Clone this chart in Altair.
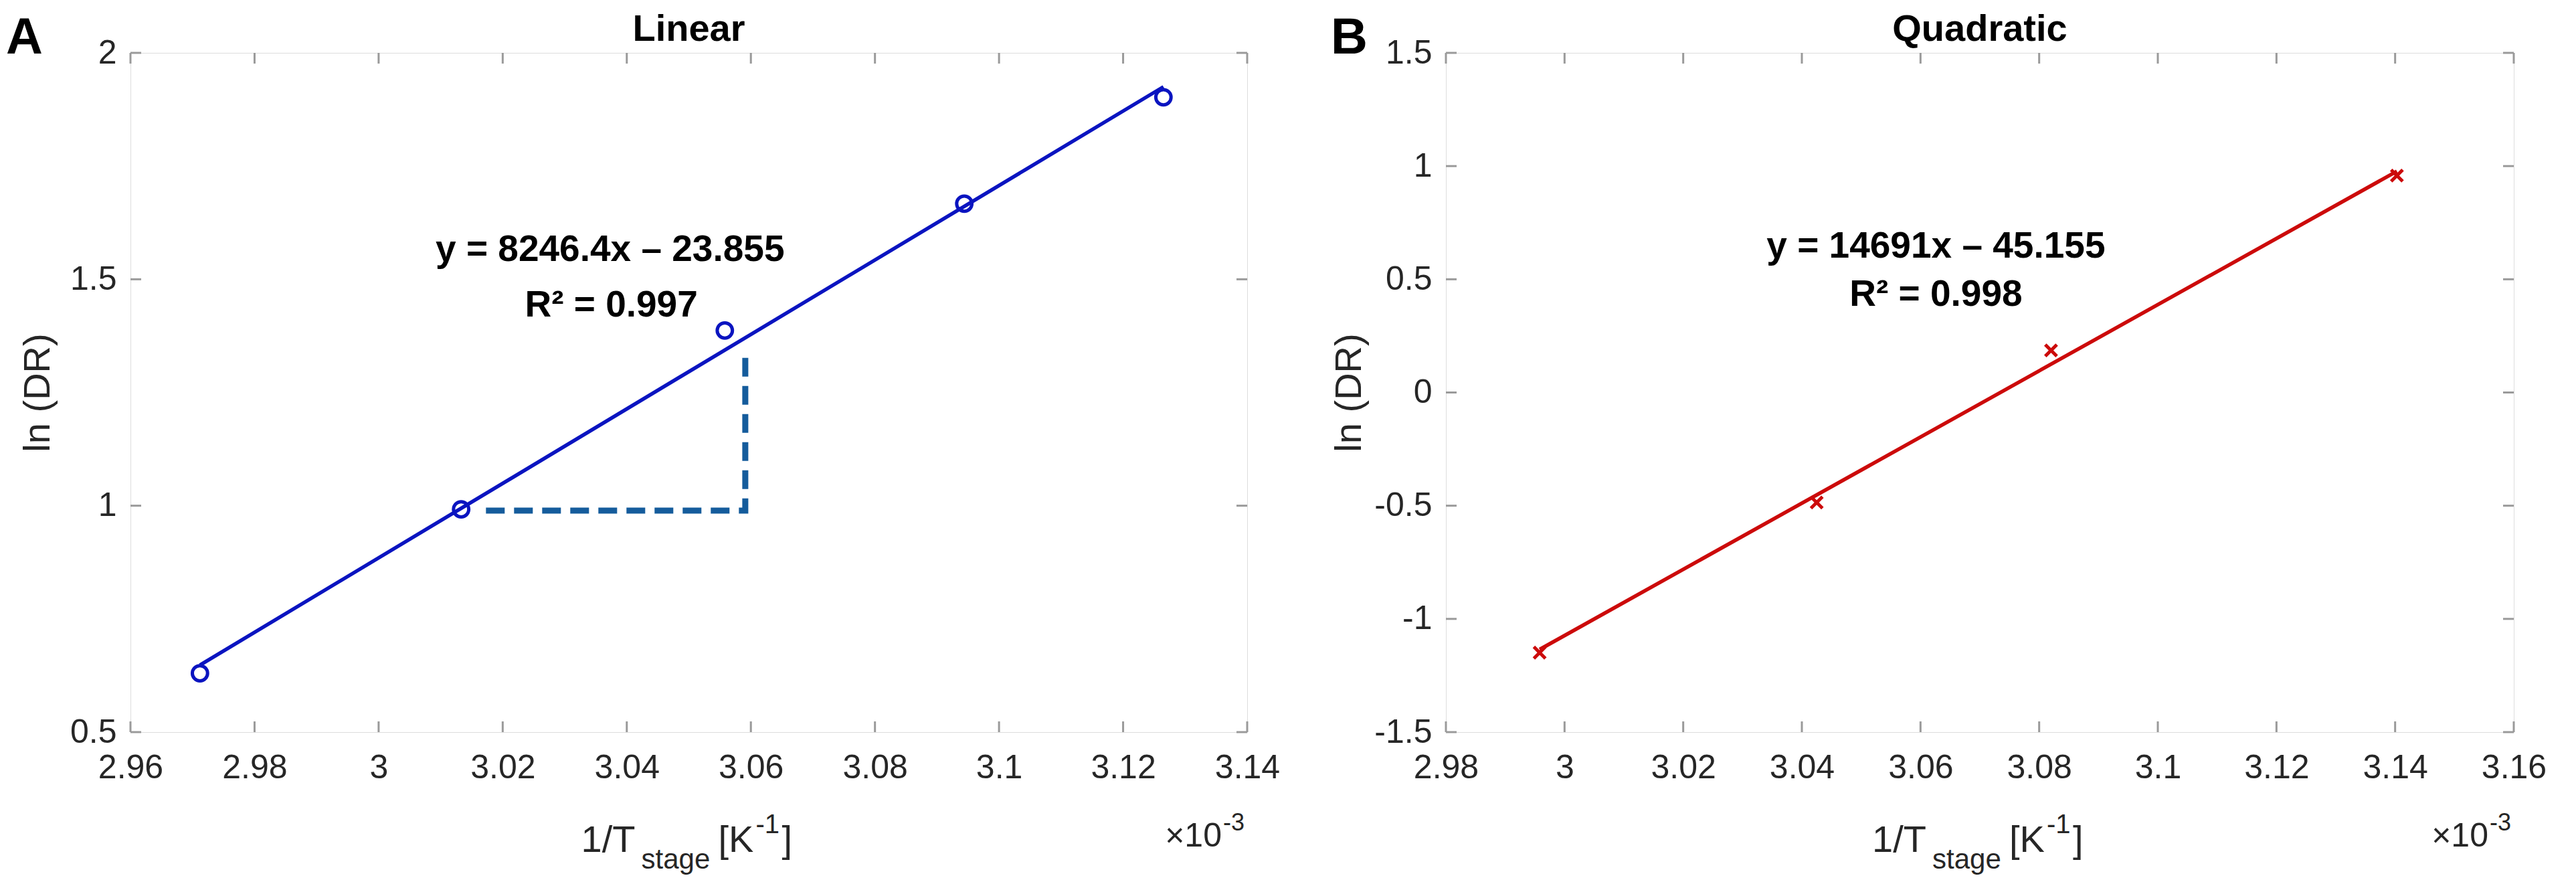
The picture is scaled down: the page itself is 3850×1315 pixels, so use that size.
import altair as alt
import pandas as pd

# ---------------- data (x values in units of 10^-3 K^-1) ----------------
# Panel A - Linear
a_x = [2.9712, 3.0133, 3.0558, 3.0944, 3.1265]
a_y = [0.630, 0.992, 1.387, 1.667, 1.902]
a_fit_x = [2.9712, 3.1265]
a_fit_y = [0.648, 1.925]
a_tri_x = [3.0173, 3.0591, 3.0591]
a_tri_y = [0.989, 0.989, 1.345]
a_x_ticks = [2.96, 2.98, 3.00, 3.02, 3.04, 3.06, 3.08, 3.10, 3.12, 3.14]
a_y_ticks = [0.5, 1.0, 1.5, 2.0]
a_x_domain = [2.96, 3.14]
a_y_domain = [0.5, 2.0]
a_title = "Linear"
a_letter = "A"
a_eq_text = ["y = 8246.4x \u2013 23.855", "R\u00b2 = 0.997"]
a_eq_x = [3.0373, 3.0375]
a_eq_y = [1.566, 1.443]

# Panel B - Quadratic
b_x = [2.9958, 3.0425, 3.0820, 3.1403]
b_y = [-1.149, -0.486, 0.186, 0.958]
b_fit_x = [2.9958, 3.1403]
b_fit_y = [-1.135, 0.977]
b_x_ticks = [2.98, 3.00, 3.02, 3.04, 3.06, 3.08, 3.10, 3.12, 3.14, 3.16]
b_y_ticks = [-1.5, -1.0, -0.5, 0.0, 0.5, 1.0, 1.5]
b_x_domain = [2.98, 3.16]
b_y_domain = [-1.5, 1.5]
b_title = "Quadratic"
b_letter = "B"
b_eq_text = ["y = 14691x \u2013 45.155", "R\u00b2 = 0.998"]
b_eq_x = [3.0626, 3.0626]
b_eq_y = [0.646, 0.433]

y_label = "ln (DR)"
x_label_parts = ["1/T", "stage", "[K", "-1", "]"]
x_exp_parts = ["\u00d710", "-3"]

# ---------------- style ----------------
SANS = "Liberation Sans"
INK = "#262626"
FRAME = "#9a9a9a"
BLUE = "#0a14c0"
DASH = "#155c9c"
RED = "#cc0a0a"
TICK_LEN = 16


def txt(s, x, y, size, weight="normal", align="left", color=INK, font=SANS):
    return alt.Chart(pd.DataFrame({"t": [s]})).mark_text(
        align=align, baseline="alphabetic", font=font, fontSize=size,
        fontWeight=weight, color=color
    ).encode(text="t:N", x=alt.value(x), y=alt.value(y))


def spacer(y0, y1):
    # invisible rule that only reserves room in the layout
    return alt.Chart(pd.DataFrame({"s": [0]})).mark_rule(opacity=0, strokeWidth=1).encode(
        x=alt.value(0), y=alt.value(y0), y2=alt.value(y1))


LABEL_EXPR = "datum.value < 0 ? '-' + format(-datum.value, '~g') : format(datum.value, '~g')"


def panel(W, H, xdom, ydom, xticks, yticks, title, letter, letter_x,
          ytitle_x, eq_text, eq_x, eq_y, data_layers):
    xs = alt.Scale(domain=xdom, nice=False, zero=False)
    ys = alt.Scale(domain=ydom, nice=False, zero=False)
    xaxis = alt.Axis(values=xticks, labelExpr=LABEL_EXPR, labelFlush=False,
                     labelOverlap=False, ticks=False, tickSize=0, domain=False,
                     grid=False, title=None, labelPadding=28, labelFont=SANS,
                     labelFontSize=50, labelColor=INK)
    yaxis = alt.Axis(values=yticks, labelExpr=LABEL_EXPR, labelOverlap=False,
                     ticks=False, tickSize=0, domain=False, grid=False,
                     labelPadding=21, labelFont=SANS, labelFontSize=50,
                     labelColor=INK, title=y_label, titleFont=SANS,
                     titleFontSize=56, titleFontWeight="normal", titleColor=INK,
                     titleAngle=270, titleAlign="center", titleBaseline="middle",
                     titleX=ytitle_x, titleY=H / 2)
    X = lambda f: alt.X(f, type="quantitative", scale=xs, axis=xaxis)
    Y = lambda f: alt.Y(f, type="quantitative", scale=ys, axis=yaxis)

    xt = pd.DataFrame({"v": xticks})
    yt = pd.DataFrame({"v": yticks})
    rule = dict(color=FRAME, strokeWidth=3)
    ticks = [
        alt.Chart(xt).mark_rule(**rule).encode(x=X("v"), y=alt.value(0), y2=alt.value(TICK_LEN)),
        alt.Chart(xt).mark_rule(**rule).encode(x=X("v"), y=alt.value(H), y2=alt.value(H - TICK_LEN)),
        alt.Chart(yt).mark_rule(**rule).encode(y=Y("v"), x=alt.value(0), x2=alt.value(TICK_LEN)),
        alt.Chart(yt).mark_rule(**rule).encode(y=Y("v"), x=alt.value(W), x2=alt.value(W - TICK_LEN)),
    ]

    layers = [lay(X, Y) for lay in data_layers]

    eq = alt.Chart(pd.DataFrame({"x": eq_x, "y": eq_y, "t": eq_text})).mark_text(
        font=SANS, fontWeight="bold", fontSize=55, color="#000000",
        align="center", baseline="middle"
    ).encode(x=X("x"), y=Y("y"), text="t:N")

    c = W / 2
    xl = [
        txt(x_label_parts[0], c - 80, H + 179, 56, align="right"),
        txt(x_label_parts[1], c - 71, H + 204, 42),
        txt(x_label_parts[2], c + 44, H + 179, 56),
        txt(x_label_parts[3], c + 100, H + 151, 40),
        txt(x_label_parts[4], c + 139, H + 179, 56),
        txt(x_exp_parts[0], W - 38, H + 171, 50, align="right"),
        txt(x_exp_parts[1], W - 36, H + 147, 36),
    ]
    heads = [
        txt(title, c, -18, 56, weight="bold", align="center", color="#000000"),
        txt(letter, letter_x, 1, 76, weight="bold", color="#000000"),
    ]
    room = [spacer(-70, -66), spacer(H + 222, H + 226)]
    return alt.layer(*room, *ticks, *layers, eq, *xl, *heads).properties(width=W, height=H)


# ---- panel A layers ----
dfA = pd.DataFrame({"x": a_x, "y": a_y})
dfA_fit = pd.DataFrame({"x": a_fit_x, "y": a_fit_y})
dfA_tri = pd.DataFrame({"x": a_tri_x, "y": a_tri_y, "o": list(range(len(a_tri_x)))})

layersA = [
    lambda X, Y: alt.Chart(dfA_tri).mark_line(color=DASH, strokeWidth=9, strokeDash=[28, 14],
                                              strokeCap="butt").encode(x=X("x"), y=Y("y"), order="o:Q"),
    lambda X, Y: alt.Chart(dfA_fit).mark_line(color=BLUE, strokeWidth=5.5).encode(x=X("x"), y=Y("y")),
    lambda X, Y: alt.Chart(dfA).mark_point(shape="circle", filled=False, size=520, strokeWidth=5,
                                           color=BLUE, opacity=1).encode(x=X("x"), y=Y("y")),
]

# ---- panel B layers ----
dfB = pd.DataFrame({"x": b_x, "y": b_y})
dfB_fit = pd.DataFrame({"x": b_fit_x, "y": b_fit_y})
layersB = [
    lambda X, Y: alt.Chart(dfB_fit).mark_line(color=RED, strokeWidth=5.5).encode(x=X("x"), y=Y("y")),
    lambda X, Y: alt.Chart(dfB).mark_point(shape="M-1,-1L1,1M-1,1L1,-1", filled=False, size=300,
                                           strokeWidth=5, color=RED, opacity=1).encode(x=X("x"), y=Y("y")),
]

panelA = panel(1669, 1015, a_x_domain, a_y_domain, a_x_ticks, a_y_ticks, a_title, a_letter,
               -186, -139, a_eq_text, a_eq_x, a_eq_y, layersA)
panelB = panel(1596, 1015, b_x_domain, b_y_domain, b_x_ticks, b_y_ticks, b_title, b_letter,
               -172, -145, b_eq_text, b_eq_x, b_eq_y, layersB)

chart = alt.hconcat(panelA, panelB, spacing=73).properties(padding=0).configure_view(
    stroke=FRAME, strokeWidth=3.5
).configure(background="white")

chart.save("out.html", embed_options={"renderer": "svg", "actions": False})
